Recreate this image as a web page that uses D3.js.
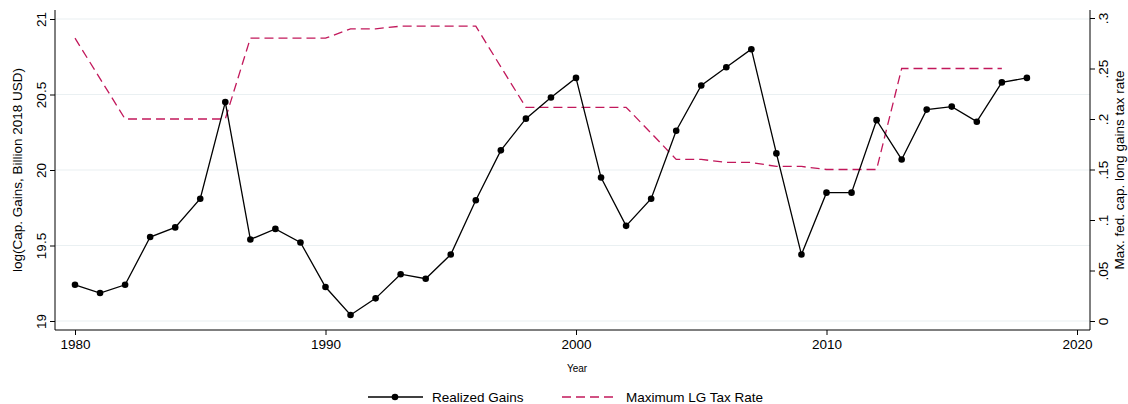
<!DOCTYPE html>
<html><head><meta charset="utf-8">
<script src="https://cdn.jsdelivr.net/npm/d3@7.9.0/dist/d3.min.js"></script>
<style>body{margin:0;background:#fff}svg{font-family:"Liberation Sans",Arial,sans-serif}</style>
</head><body><svg width="1128" height="404"></svg>
<script>
const years = d3.range(1980, 2019);
const gains = [19.24,19.185,19.24,19.556,19.62,19.81,20.45,19.54,19.61,19.52,19.225,19.04,19.15,19.31,19.28,19.44,19.80,20.13,20.34,20.48,20.61,19.95,19.63,19.81,20.26,20.56,20.68,20.80,20.11,19.44,19.85,19.85,20.33,20.07,20.40,20.42,20.32,20.58,20.61];
const taxYears = d3.range(1980, 2018);
const taxRate = [0.28,0.24,0.20,0.20,0.20,0.20,0.20,0.28,0.28,0.28,0.28,0.2893,0.2893,0.2919,0.2919,0.2919,0.2919,0.2516,0.2116,0.2116,0.2116,0.2116,0.2116,0.186,0.16,0.16,0.157,0.157,0.153,0.153,0.15,0.15,0.15,0.25,0.25,0.25,0.25,0.25];
const leftTicks = [19,19.5,20,20.5,21];
const rightTicks = [0,0.05,0.1,0.15,0.2,0.25,0.3];
const xTicks = [1980,1990,2000,2010,2020];

const svg = d3.select("svg");
const L = 55, R = 1090, T = 10, B = 330;
const x = d3.scaleLinear().domain([1980,2020]).range([75,1077]);
const y = d3.scaleLinear().domain([19,21]).range([321,19]);
const y2 = d3.scaleLinear().domain([0,0.3]).range([321,18]);

// grid
svg.selectAll(".grid").data(leftTicks).join("line")
  .attr("x1", L).attr("x2", R).attr("y1", d => y(d)).attr("y2", d => y(d))
  .attr("stroke", "#eaf0f2").attr("stroke-width", 1.2);

// axes
const fmt = d => String(d).replace(/^0\./, ".");
const gl = svg.append("g").attr("transform", `translate(${L},0)`)
  .call(d3.axisLeft(y).tickValues(leftTicks).tickSize(5).tickFormat(d => d));
const gr = svg.append("g").attr("transform", `translate(${R},0)`)
  .call(d3.axisRight(y2).tickValues(rightTicks).tickSize(5).tickFormat(fmt));
const gx = svg.append("g").attr("transform", `translate(0,${B})`)
  .call(d3.axisBottom(x).tickValues(xTicks).tickSize(5).tickFormat(d => d));
[gl, gr, gx].forEach(g => {
  g.select(".domain").attr("stroke", "#000").attr("d", null);
  g.selectAll("text").attr("font-size", 13.5).attr("fill", "#000").attr("font-family", "Liberation Sans, Arial");
});
gl.select(".domain").attr("d", `M0,${T}V${B}`);
gr.select(".domain").attr("d", `M0,${T}V${B}`);
gx.select(".domain").attr("d", `M${L},0H${R}`);
gl.selectAll("text").attr("transform", "rotate(-90)").attr("x", 0).attr("y", -9).attr("dy", 0).attr("text-anchor", "middle");
gr.selectAll("text").attr("transform", "rotate(-90)").attr("x", 0).attr("y", 18).attr("dy", 0).attr("text-anchor", "middle");
gx.selectAll("text").attr("y", 9);

// lines
svg.append("path").datum(taxYears.map((t, i) => [t, taxRate[i]]))
  .attr("fill", "none").attr("stroke", "#c2185b").attr("stroke-width", 1.3).attr("stroke-dasharray", "9,5")
  .attr("d", d3.line().x(d => x(d[0])).y(d => y2(d[1])));
svg.append("path").datum(years.map((t, i) => [t, gains[i]]))
  .attr("fill", "none").attr("stroke", "#000").attr("stroke-width", 1.3)
  .attr("d", d3.line().x(d => x(d[0])).y(d => y(d[1])));
svg.selectAll(".pt").data(years).join("circle")
  .attr("cx", d => x(d)).attr("cy", (d, i) => y(gains[i])).attr("r", 3.3).attr("fill", "#000");

// titles
svg.append("text").attr("transform", `translate(22,${(T+B)/2}) rotate(-90)`).attr("text-anchor", "middle")
  .attr("font-size", 13.5).text("log(Cap. Gains, Billion 2018 USD)");
svg.append("text").attr("transform", `translate(1124,${(T+B)/2}) rotate(-90)`).attr("text-anchor", "middle")
  .attr("font-size", 13.5).text("Max. fed. cap. long gains tax rate");
svg.append("text").attr("x", 577).attr("y", 372).attr("text-anchor", "middle").attr("font-size", 10).text("Year");

// legend
const lg = svg.append("g").attr("transform", "translate(0,397)");
lg.append("line").attr("x1", 368).attr("x2", 423).attr("stroke", "#000").attr("stroke-width", 1.3);
lg.append("circle").attr("cx", 395).attr("r", 3.3);
lg.append("text").attr("x", 432).attr("y", 5).attr("font-size", 13.5).text("Realized Gains");
lg.append("line").attr("x1", 562).attr("x2", 617).attr("stroke", "#c2185b").attr("stroke-width", 1.3).attr("stroke-dasharray", "9,5");
lg.append("text").attr("x", 626).attr("y", 5).attr("font-size", 13.5).text("Maximum LG Tax Rate");
</script></body></html>
